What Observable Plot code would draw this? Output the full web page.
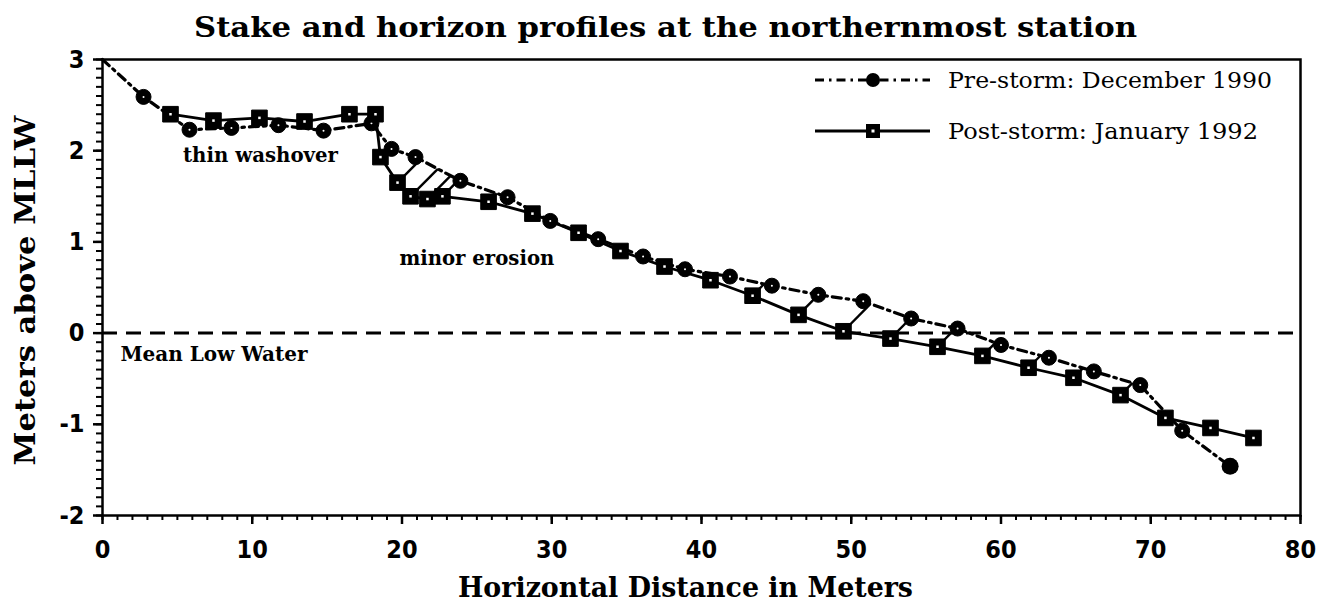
<!DOCTYPE html>
<html>
<head>
<meta charset="utf-8">
<script src="https://cdn.jsdelivr.net/npm/d3@7"></script>
<script src="https://cdn.jsdelivr.net/npm/@observablehq/plot@0.6"></script>
<style>
  html, body { margin: 0; padding: 0; background: #fff; }
  #wrap { position: relative; width: 1330px; height: 605px; }
  #legend { position: absolute; left: 0; top: 0; pointer-events: none; }
</style>
</head>
<body>
<div id="wrap"></div>
<script>
// ---- Data ----
const preX = [0, 2.74, 5.81, 8.61, 11.75, 14.76, 17.96, 19.3, 20.9, 23.9, 27.05, 29.9, 33.1, 36.1, 38.9, 41.9, 44.7, 47.8, 50.8, 54.0, 57.1, 60.0, 63.2, 66.2, 69.3, 72.1, 75.3];
const preY = [3.0, 2.59, 2.23, 2.25, 2.28, 2.22, 2.30, 2.02, 1.93, 1.67, 1.49, 1.23, 1.03, 0.84, 0.70, 0.62, 0.52, 0.42, 0.35, 0.16, 0.05, -0.13, -0.27, -0.42, -0.57, -1.07, -1.46];

const postX = [4.54, 7.41, 10.48, 13.49, 16.49, 18.23, 18.56, 19.70, 20.57, 21.70, 22.70, 25.78, 28.71, 31.79, 34.59, 37.53, 40.60, 43.41, 46.48, 49.48, 52.62, 55.76, 58.76, 61.84, 64.84, 67.98, 70.98, 73.99, 76.86];
const postY = [2.40, 2.33, 2.36, 2.32, 2.40, 2.40, 1.93, 1.65, 1.50, 1.47, 1.50, 1.44, 1.31, 1.10, 0.90, 0.73, 0.58, 0.41, 0.20, 0.02, -0.06, -0.15, -0.25, -0.38, -0.49, -0.68, -0.93, -1.04, -1.15];

const seriesNames = ["Pre-storm: December 1990", "Post-storm:  January 1992"];
const noteText = ["thin washover", "minor erosion", "Mean Low Water"];
const noteX = [10.55, 25.0, 1.2];
const noteY = [1.95, 0.82, -0.24];

const xTicks = [0, 10, 20, 30, 40, 50, 60, 70, 80];
const yTicks = [-2, -1, 0, 1, 2, 3];

const titleText = "Stake and horizon profiles at the northernmost station";
const xLabel = "Horizontal Distance in Meters";
const yLabel = "Meters above MLLW";

// ---- Build tables ----
const pre = preX.map((x, i) => ({x, y: preY[i], i}));
const post = postX.map((x, i) => ({x, y: postY[i]}));
const notes = noteText.map((t, i) => ({t, x: noteX[i], y: noteY[i]}));

function interp(xs, ys, x) {
  if (x <= xs[0]) return ys[0];
  for (let k = 1; k < xs.length; k++) {
    if (x <= xs[k]) {
      const t = (x - xs[k - 1]) / (xs[k] - xs[k - 1]);
      return ys[k - 1] + t * (ys[k] - ys[k - 1]);
    }
  }
  return ys[ys.length - 1];
}
// hatching: from each post-storm point up to the pre-storm profile (~45 deg), where eroded
const hatches = [];
post.forEach(p => {
  if (p.x < 18.5 || p.x > 70) return;
  const diff = interp(preX, preY, p.x) - p.y;
  if (diff < 0.1) return;
  let d = 6 * diff;
  for (let k = 0; k < 6; k++) d = Math.max(0, 6 * (interp(preX, preY, p.x + d) - p.y));
  hatches.push({x1: p.x, y1: p.y, x2: p.x + d, y2: interp(preX, preY, p.x + d)});
});

const serif = "DejaVu Serif";
const tickFont = "Liberation Sans Narrow, DejaVu Sans Condensed, sans-serif";

const preInner = pre.filter(d => d.i > 0 && d.i < pre.length - 1);
const preLast = pre.filter(d => d.i === pre.length - 1);

const chart = Plot.plot({
  width: 1330,
  height: 605,
  marginLeft: 102,
  marginRight: 30,
  marginTop: 59,
  marginBottom: 90,
  x: {domain: [0, 80]},
  y: {domain: [-2, 3]},
  style: {background: "#fff", color: "#000"},
  marks: [
    Plot.ruleY([0], {strokeDasharray: "15,9", strokeWidth: 3}),
    Plot.link(hatches, {x1: "x1", y1: "y1", x2: "x2", y2: "y2", strokeWidth: 2.4}),
    Plot.line(pre, {x: "x", y: "y", strokeWidth: 3.2, strokeDasharray: "9,5,2.5,5"}),
    Plot.line(post, {x: "x", y: "y", strokeWidth: 2.8}),
    Plot.dot(preInner, {x: "x", y: "y", r: 7.5, fill: "#000", stroke: "#000", strokeWidth: 1}),
    Plot.dot(preLast, {x: "x", y: "y", r: 8.5, fill: "#000"}),
    Plot.dot(preInner, {x: "x", y: "y", r: 1, fill: "#fff"}),
    Plot.dot(post, {x: "x", y: "y", symbol: "square", r: 8.8, fill: "#000", stroke: "#000", strokeWidth: 1}),
    Plot.dot(post, {x: "x", y: "y", symbol: "square", r: 1.4, fill: "#fff"}),
    Plot.frame({strokeWidth: 2.5}),
    Plot.axisX({ticks: d3.range(0, 81, 1), tickSize: 5, text: null, label: null, strokeWidth: 2}),
    Plot.axisX({ticks: xTicks, tickSize: 9, tickPadding: 16, tickFormat: d => `${d}`, label: null,
      fontSize: 25, fontWeight: "bold", fontFamily: tickFont, strokeWidth: 2.5}),
    Plot.axisY({ticks: d3.range(-20, 31, 1).map(d => d / 10), tickSize: 6, text: null, label: null, strokeWidth: 2}),
    Plot.axisY({ticks: yTicks, tickSize: 9, tickPadding: 9, tickFormat: d => `${d}`, label: null,
      fontSize: 25, fontWeight: "bold", fontFamily: tickFont, strokeWidth: 2.5}),
    Plot.text(notes.filter(d => d.t !== "Mean Low Water"), {x: "x", y: "y", text: "t", textAnchor: "middle",
      fontSize: 20, fontWeight: "bold", fontFamily: serif}),
    Plot.text(notes.filter(d => d.t === "Mean Low Water"), {x: "x", y: "y", text: "t", textAnchor: "start",
      fontSize: 20, fontWeight: "bold", fontFamily: serif}),
    Plot.text([titleText], {frameAnchor: "top", dy: -31, dx: -36, lineAnchor: "middle", textAnchor: "middle",
      fontSize: 27, fontWeight: "bold", fontFamily: serif}),
    Plot.text([xLabel], {frameAnchor: "bottom", dy: 73, dx: -16, lineAnchor: "middle", textAnchor: "middle",
      fontSize: 28, fontWeight: "bold", fontFamily: serif}),
    Plot.text([yLabel], {frameAnchor: "left", dx: -76, dy: 3, rotate: -90, lineAnchor: "middle", textAnchor: "middle",
      fontSize: 28, fontWeight: "bold", fontFamily: serif})
  ]
});
document.getElementById("wrap").appendChild(chart);

// fit text widths to the reference layout
const widths = new Map([[titleText, 943], [xLabel, 455], [yLabel, 350],
  ["thin washover", 155], ["minor erosion", 155], ["Mean Low Water", 187]]);
d3.select(chart).selectAll("text").each(function () {
  const t = this.textContent;
  if (widths.has(t)) {
    this.setAttribute("textLength", widths.get(t));
    this.setAttribute("lengthAdjust", "spacingAndGlyphs");
  }
});

// ---- Legend (inside the frame, upper right) ----
const lg = d3.select("#wrap").append("svg").attr("id", "legend").attr("width", 1330).attr("height", 605);
const rows = [{y: 80, dash: "9,5,2.5,5", w: 3.2}, {y: 131, dash: null, w: 2.8}];
rows.forEach((r, i) => {
  const l = lg.append("line").attr("x1", 815).attr("x2", 930).attr("y1", r.y).attr("y2", r.y)
    .attr("stroke", "#000").attr("stroke-width", r.w);
  if (r.dash) l.attr("stroke-dasharray", r.dash);
  if (i === 0) {
    lg.append("circle").attr("cx", 873).attr("cy", r.y).attr("r", 7).attr("fill", "#000");
  } else {
    lg.append("rect").attr("x", 866).attr("y", r.y - 7).attr("width", 14).attr("height", 14).attr("fill", "#000");
    lg.append("rect").attr("x", 871.5).attr("y", r.y - 1.5).attr("width", 3).attr("height", 3).attr("fill", "#fff");
  }
  lg.append("text").attr("x", 948).attr("y", r.y + 8).attr("font-family", serif).attr("font-size", 23)
    .attr("textLength", i === 0 ? 324 : 310).attr("lengthAdjust", "spacingAndGlyphs")
    .attr("fill", "#000").text(seriesNames[i]);
});
</script>
</body>
</html>
